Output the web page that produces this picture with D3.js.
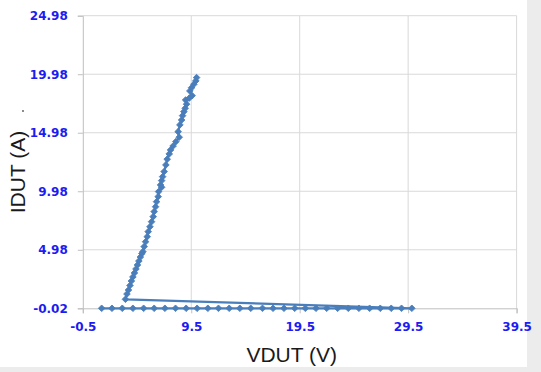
<!DOCTYPE html>
<html>
<head>
<meta charset="utf-8">
<script src="https://cdn.jsdelivr.net/npm/d3@7"></script>
<style>
  html, body { margin: 0; padding: 0; background: #ececec; }
  svg { display: block; }
</style>
</head>
<body>
<svg id="chart" width="541" height="372"></svg>
<script>
// ---- data ----
const vdut = [
  1.24, 2.19, 3.14, 4.12, 5.11, 6.08, 7.07, 8.05, 9.03, 10.04,
  11.03, 12.01, 13.0, 13.98, 14.99, 16.07, 17.04, 18.05, 19.04, 20.02,
  21.0, 21.99, 23.0, 23.98, 24.96, 25.95, 26.93, 27.94, 28.89, 29.84,
  3.43, 3.57, 3.71, 3.85, 3.98, 4.12, 4.26, 4.40, 4.54, 4.67, 4.81, 4.95,
  5.04, 5.16, 5.29, 5.44, 5.53, 5.69, 5.84, 5.99, 6.08, 6.21, 6.30, 6.45,
  6.49, 6.77, 6.67, 6.77, 6.86, 7.00, 7.16, 7.28, 7.47, 7.59, 7.83, 8.08, 8.39, 8.29,
  8.45, 8.61, 8.70, 8.82, 8.94, 9.07, 8.98, 9.31, 9.58, 9.37, 9.53, 9.74, 9.92, 9.99
];
const idut = [
  -0.02, -0.02, -0.02, -0.02, -0.02, -0.02, -0.02, -0.02, -0.02, -0.02,
  -0.02, -0.02, -0.02, -0.02, -0.02, -0.02, -0.02, -0.02, -0.02, -0.02,
  -0.02, -0.02, -0.02, -0.02, -0.02, -0.02, -0.02, -0.02, -0.02, -0.02,
  0.75, 1.20, 1.54, 1.93, 2.31, 2.66, 3.00, 3.34, 3.68, 4.02, 4.36, 4.66,
  4.82, 5.25, 5.67, 6.10, 6.53, 6.95, 7.38, 7.81, 8.24, 8.66, 9.09, 9.52,
  9.95, 10.32, 10.52, 10.89, 11.23, 11.66, 12.23, 12.72, 13.17, 13.51, 13.85, 14.22, 14.60, 15.07,
  15.65, 16.07, 16.44, 16.78, 17.07, 17.42, 17.78, 17.93, 18.15, 18.55, 18.83, 19.12, 19.41, 19.69
];
const xTicks = [-0.5, 9.5, 19.5, 29.5, 39.5];
const yTicks = [-0.02, 4.98, 9.98, 14.98, 19.98, 24.98];
const xTitle = "VDUT (V)";
const yTitle = "IDUT (A)";

// ---- layout ----
const svg = d3.select("#chart");
const plot = { left: 82.8, right: 516.6, top: 15.7, bottom: 308.3 };
const blue = "#4a7ebb";

svg.append("rect").attr("x", 0).attr("y", 0).attr("width", 527).attr("height", 367).attr("fill", "#ffffff");

const x = d3.scaleLinear().domain([-0.5, 39.5]).range([plot.left, plot.right]);
const y = d3.scaleLinear().domain([-0.02, 24.98]).range([plot.bottom, plot.top]);

// grid
const grid = svg.append("g");
grid.selectAll("line.vg").data(xTicks.slice(1)).enter().append("line")
  .attr("x1", d => x(d)).attr("x2", d => x(d))
  .attr("y1", plot.top).attr("y2", plot.bottom)
  .attr("stroke", "#d9d9d9").attr("stroke-width", 1);
grid.selectAll("line.hg").data(yTicks.slice(1)).enter().append("line")
  .attr("x1", plot.left).attr("x2", plot.right)
  .attr("y1", d => y(d)).attr("y2", d => y(d))
  .attr("stroke", "#d9d9d9").attr("stroke-width", 1);

// axes
const xAxis = d3.axisBottom(x).tickValues(xTicks).tickSize(5).tickPadding(9).tickFormat(d => String(d));
const yAxis = d3.axisLeft(y).tickValues(yTicks).tickSize(5).tickPadding(10).tickFormat(d => d.toFixed(2));

const gx = svg.append("g").attr("transform", `translate(0,${plot.bottom})`).call(xAxis);
const gy = svg.append("g").attr("transform", `translate(${plot.left},0)`).call(yAxis);
[gx, gy].forEach(g => {
  g.select(".domain").attr("stroke", "#bfbfbf").attr("stroke-width", 1);
  g.selectAll(".tick line").attr("stroke", "#bfbfbf");
  g.selectAll(".tick text")
    .attr("fill", "#1c1cf2")
    .style("font-family", "'DejaVu Sans', sans-serif")
    .style("font-weight", "bold")
    .style("font-size", "12px");
});

// series line
const pts = vdut.map((v, i) => [v, idut[i]]);
const line = d3.line().x(d => x(d[0])).y(d => y(d[1]));
svg.append("path").datum(pts)
  .attr("d", line)
  .attr("fill", "none")
  .attr("stroke", blue)
  .attr("stroke-width", 2.2)
  .attr("stroke-linejoin", "round");

// markers (diamonds)
const sym = d3.symbol().type(d3.symbolSquare).size(22);
svg.append("g").selectAll("path").data(pts).enter().append("path")
  .attr("d", sym)
  .attr("transform", d => `translate(${x(d[0])},${y(d[1])}) rotate(45)`)
  .attr("fill", blue)
  .attr("stroke", blue)
  .attr("stroke-width", 0.8);

// titles
svg.append("text")
  .attr("x", (plot.left + plot.right) / 2 - 8)
  .attr("y", 361.5)
  .attr("text-anchor", "middle")
  .attr("fill", "#1a1a1a")
  .style("font-family", "'Liberation Sans', Arial, sans-serif")
  .style("font-size", "21px")
  .text(xTitle);

svg.append("text")
  .attr("transform", `translate(25,172) rotate(-90)`)
  .attr("text-anchor", "middle")
  .attr("fill", "#1a1a1a")
  .style("font-family", "'Liberation Sans', Arial, sans-serif")
  .style("font-size", "21px")
  .text(yTitle);

// small stray dot in the original
svg.append("circle").attr("cx", 23).attr("cy", 111).attr("r", 0.9).attr("fill", "#555");
</script>
</body>
</html>
